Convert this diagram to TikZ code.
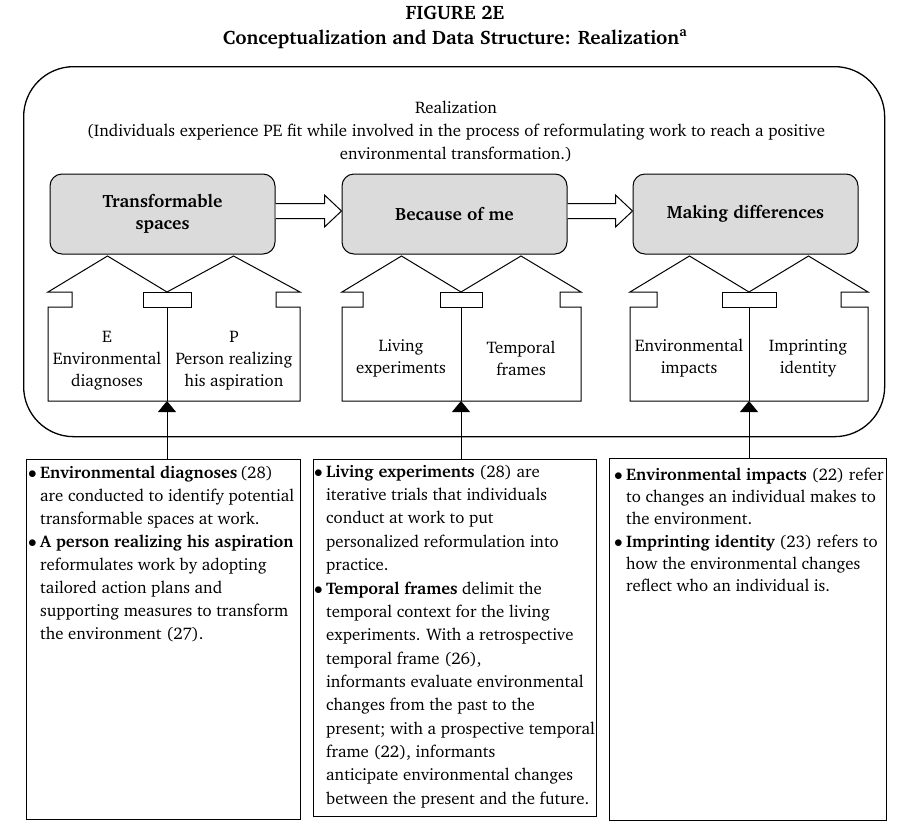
\documentclass[tikz,border=0pt]{standalone}
\usepackage[T1]{fontenc}
\usepackage{charter}
\usetikzlibrary{arrows.meta,calc}
\newcommand\bul{\makebox[12pt][l]{$\bullet$}}
\newcommand\ind{\hspace*{12pt}}
\newcommand\drawhut[4]{%
  \pgfmathsetmacro\pka{(#1+#2)/2}%
  \pgfmathsetmacro\pkb{(#2+#3)/2}%
  \draw[hline] (#1,401) -- (#1,307) -- (#1+#4,307) -- (#1+#4,292) -- (#1,292)
     -- (\pka,256) -- (#2,292) -- (\pkb,256) -- (#3,292) -- (#3-#4,292)
     -- (#3-#4,307) -- (#3,307) -- (#3,401) -- cycle;
  \draw[hline] (#2-#4,292) rectangle (#2+#4,307);
  \draw[hline] (#2,307) -- (#2,401);
}
\begin{document}
\begin{tikzpicture}[x=1pt,y=-1pt,
  body/.style={font=\fontsize{16.8}{23}\selectfont},
  gbox/.style={draw=black, fill=black!14, rounded corners=12pt, line width=1pt,
     minimum width=225pt, minimum height=80pt, align=center,
     font=\bfseries\fontsize{17.8}{22}\selectfont},
  hline/.style={line width=1pt, line join=miter},
  panel/.style={draw, line width=1.1pt, anchor=north west, inner sep=0pt},
  ptext/.style={anchor=north west, align=left, inner sep=0pt},
  htext/.style={font=\fontsize{16.8}{22}\selectfont, align=center, inner sep=0pt},
  conn/.style={line width=1pt, -{Triangle[width=18pt,length=11pt]}},
  blockarrow/.style={line width=1pt, fill=white, line join=miter}
]
\useasboundingbox (0,0) rectangle (899,825);

% title
\node[font=\bfseries\fontsize{19.5}{25}\selectfont, align=center] (title) at (455,27)
  {FIGURE 2E\\Conceptualization and Data Structure: Realization\textsuperscript{a}};

% frame
\node[draw, line width=1.3pt, rounded corners=50pt, minimum width=861pt,
  minimum height=370pt, anchor=north west, inner sep=0pt] (frame) at (23,66) {};

\node[body, align=center] (rz) at (456,131)
  {Realization\\(Individuals experience PE fit while involved in the process of reformulating work to reach a positive\\environmental transformation.)};

% gray boxes
\node[gbox] (g1) at (162.5,214) {Transformable\\spaces};
\node[gbox] (g2) at (454.5,214) {Because of me};
\node[gbox] (g3) at (745.5,214) {Making differences};

% block arrows
\coordinate (a1s) at ($(g1.east)+(0,-3)$);
\coordinate (a1e) at ($(g2.west)+(0,-3)$);
\coordinate (a2s) at ($(g2.east)+(0,-3)$);
\coordinate (a2e) at ($(g3.west)+(0,-3)$);
\draw[blockarrow] ($(a1s)+(0,-7.5)$) -- ($(a1e)+(-17,-7.5)$) -- ($(a1e)+(-17,-16)$)
  -- (a1e) -- ($(a1e)+(-17,16)$) -- ($(a1e)+(-17,7.5)$) -- ($(a1s)+(0,7.5)$);
\draw[blockarrow] ($(a2s)+(0,-7.5)$) -- ($(a2e)+(-17,-7.5)$) -- ($(a2e)+(-17,-16)$)
  -- (a2e) -- ($(a2e)+(-17,16)$) -- ($(a2e)+(-17,7.5)$) -- ($(a2s)+(0,7.5)$);

% huts
\drawhut{48}{167}{300}{24}
\drawhut{342}{461}{581}{21}
\drawhut{630}{749}{868}{27}
\coordinate (h1) at (167,401);
\coordinate (h2) at (461,401);
\coordinate (h3) at (749,401);

\node[htext] (h1l) at (107,361) {E\\Environmental\\diagnoses};
\node[htext] (h1r) at (234,361) {P\\Person realizing\\his aspiration};
\node[htext] (h2l) at (401,358.5) {Living\\experiments};
\node[htext] (h2r) at (521,358.5) {Temporal\\frames};
\node[htext] (h3l) at (689,358.5) {Environmental\\impacts};
\node[htext] (h3r) at (808,358.5) {Imprinting\\identity};

% bottom panels
\node[panel, minimum width=274pt, minimum height=360pt] (pA) at (26,459) {};
\node[panel, minimum width=283pt, minimum height=357pt] (pB) at (313,459) {};
\node[panel, minimum width=277pt, minimum height=362pt] (pC) at (609,458) {};

\node[ptext, font=\fontsize{16.8}{22.9}\selectfont] (tA) at ($(pA.north west)+(2,7)$) {%
\bul\textbf{Environmental diagnoses}\,(28)\\
\ind are conducted to identify potential\\
\ind transformable spaces at work.\\
\bul\textbf{A person realizing his aspiration}\\
\ind reformulates work by adopting\\
\ind tailored action plans and\\
\ind supporting measures to transform\\
\ind the environment (27).};

\node[ptext, font=\fontsize{16.8}{23.35}\selectfont] (tB) at ($(pB.north west)+(1,6)$) {%
\bul\textbf{Living experiments} (28) are\\
\ind iterative trials that individuals\\
\ind conduct at work to put\\
\ind personalized reformulation into\\
\ind practice.\\
\bul\textbf{Temporal frames} delimit the\\
\ind temporal context for the living\\
\ind experiments. With a retrospective\\
\ind temporal frame (26),\\
\ind informants evaluate environmental\\
\ind changes from the past to the\\
\ind present; with a prospective temporal\\
\ind frame (22), informants\\
\ind anticipate environmental changes\\
\ind between the present and the future.};

\node[ptext, font=\fontsize{16.8}{22.3}\selectfont] (tC) at ($(pC.north west)+(5,9.5)$) {%
\bul\textbf{Environmental impacts} (22) refer\\
\ind to changes an individual makes to\\
\ind the environment.\\
\bul\textbf{Imprinting identity} (23) refers to\\
\ind how the environmental changes\\
\ind reflect who an individual is.};

% connectors
\draw[conn] (pA.north -| h1) -- (h1);
\draw[conn] (pB.north -| h2) -- (h2);
\draw[conn] (pC.north -| h3) -- (h3);
\end{tikzpicture}
\end{document}
